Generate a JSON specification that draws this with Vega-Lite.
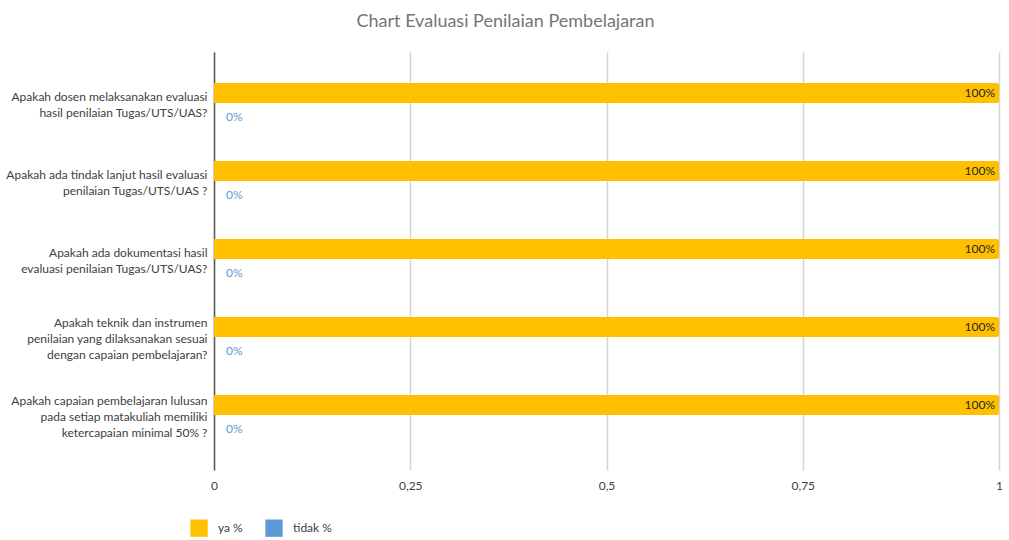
{
  "$schema": "https://vega.github.io/schema/vega-lite/v6.json",
  "autosize": "none",
  "width": 785,
  "height": 418,
  "padding": {"left": 214, "top": 52, "right": 10, "bottom": 70},
  "background": "white",
  "config": {
    "font": "Lato",
    "view": {"stroke": null}
  },
  "title": {
    "text": "Chart Evaluasi Penilaian Pembelajaran",
    "fontSize": 18,
    "fontWeight": "normal",
    "color": "#757575",
    "font": "Lato",
    "anchor": "middle",
    "dx": -101,
    "offset": 21
  },
  "data": {
    "values": [
      {"q": "Apakah dosen melaksanakan evaluasi|hasil penilaian Tugas/UTS/UAS?", "seri": "ya %", "nilai": 1, "label": "100%"},
      {"q": "Apakah dosen melaksanakan evaluasi|hasil penilaian Tugas/UTS/UAS?", "seri": "tidak %", "nilai": 0, "label": "0%"},
      {"q": "Apakah ada tindak lanjut hasil evaluasi|penilaian Tugas/UTS/UAS ?", "seri": "ya %", "nilai": 1, "label": "100%"},
      {"q": "Apakah ada tindak lanjut hasil evaluasi|penilaian Tugas/UTS/UAS ?", "seri": "tidak %", "nilai": 0, "label": "0%"},
      {"q": "Apakah ada dokumentasi hasil|evaluasi penilaian Tugas/UTS/UAS?", "seri": "ya %", "nilai": 1, "label": "100%"},
      {"q": "Apakah ada dokumentasi hasil|evaluasi penilaian Tugas/UTS/UAS?", "seri": "tidak %", "nilai": 0, "label": "0%"},
      {"q": "Apakah teknik dan instrumen|penilaian yang dilaksanakan sesuai|dengan capaian pembelajaran?", "seri": "ya %", "nilai": 1, "label": "100%"},
      {"q": "Apakah teknik dan instrumen|penilaian yang dilaksanakan sesuai|dengan capaian pembelajaran?", "seri": "tidak %", "nilai": 0, "label": "0%"},
      {"q": "Apakah capaian pembelajaran lulusan|pada setiap matakuliah memiliki|ketercapaian minimal 50% ?", "seri": "ya %", "nilai": 1, "label": "100%"},
      {"q": "Apakah capaian pembelajaran lulusan|pada setiap matakuliah memiliki|ketercapaian minimal 50% ?", "seri": "tidak %", "nilai": 0, "label": "0%"}
    ]
  },
  "encoding": {
    "y": {
      "field": "q",
      "type": "nominal",
      "sort": null,
      "scale": {"paddingInner": 0, "paddingOuter": 0.18},
      "axis": {
        "title": null,
        "labelExpr": "split(datum.label, '|')",
        "labelLimit": 300,
        "labelFontSize": 12,
        "labelColor": "#404040",
        "labelPadding": 7,
        "labelLineHeight": 16,
        "labelOffset": {"condition": {"test": "length(split(datum.value, '|')) === 3", "value": -16}, "value": -8},
        "ticks": false,
        "domainColor": "#595959",
        "domainWidth": 1.5,
        "grid": false
      }
    },
    "yOffset": {
      "field": "seri",
      "type": "nominal",
      "sort": ["ya %", "tidak %"],
      "scale": {"paddingInner": 0, "paddingOuter": 0.95, "align": 0.447}
    },
    "x": {
      "field": "nilai",
      "type": "quantitative",
      "scale": {"domain": [0, 1], "nice": false},
      "axis": {
        "title": null,
        "values": [0, 0.25, 0.5, 0.75, 1],
        "labelExpr": "replace(toString(datum.value), '.', ',')",
        "labelFontSize": 12,
        "labelColor": "#404040",
        "labelPadding": 10,
        "labelFlush": false,
        "ticks": false,
        "domain": false,
        "grid": true,
        "gridColor": "#d4d4d4",
        "gridWidth": 1.5
      }
    }
  },
  "layer": [
    {
      "mark": {"type": "bar", "cornerRadiusEnd": 2},
      "encoding": {
        "color": {
          "field": "seri",
          "type": "nominal",
          "sort": ["ya %", "tidak %"],
          "scale": {"domain": ["ya %", "tidak %"], "range": ["#FFC000", "#5B9BD5"]},
          "legend": {
            "title": null,
            "orient": "none",
            "legendX": -24,
            "legendY": 467,
            "direction": "horizontal",
            "symbolType": "square",
            "symbolSize": 300,
            "symbolStrokeWidth": 0,
            "labelFontSize": 12,
            "labelColor": "#404040",
            "labelOffset": 10,
            "columnPadding": 22
          }
        }
      }
    },
    {
      "transform": [{"filter": "datum.seri === 'ya %'"}],
      "mark": {"type": "text", "align": "right", "dx": -4, "fontSize": 12, "color": "#262626"},
      "encoding": {"text": {"field": "label"}}
    },
    {
      "transform": [{"filter": "datum.seri === 'tidak %'"}],
      "mark": {"type": "text", "align": "left", "dx": 12, "dy": 4, "fontSize": 12, "color": "#5B9BD5"},
      "encoding": {"text": {"field": "label"}}
    }
  ]
}
